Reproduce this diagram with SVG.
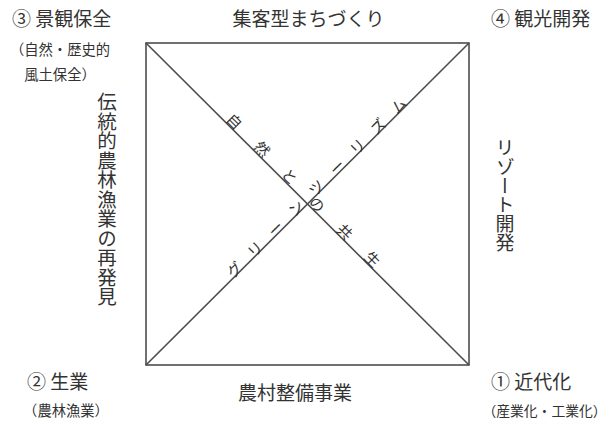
<svg xmlns="http://www.w3.org/2000/svg" width="607" height="423" viewBox="0 0 607 423">
<style>
text{font-family:'Noto Sans CJK JP','Noto Sans CJK SC',sans-serif;fill:#333}
.h{font-size:19px}
.s{font-size:14.3px}
.d{font-size:15px}
.v{font-size:19.5px;writing-mode:vertical-rl}
.ln{stroke:#4d4d4d;stroke-width:1.6;fill:none}
</style>
<rect width="607" height="423" fill="#fff"/>
<g id="connectors">
<rect class="ln" x="146" y="43" width="323" height="322"/>
<line class="ln" x1="146" y1="43" x2="469" y2="365"/>
<line class="ln" x1="146" y1="365" x2="469" y2="43"/>
</g>
<g id="node-3">
<text class="h" x="12" y="26">③ 景観保全</text>
<text class="s" x="60" y="54.5" text-anchor="middle">（自然・歴史的</text>
<text class="s" x="60" y="80" text-anchor="middle">風土保全）</text>
</g>
<g id="node-4">
<text class="h" x="491" y="26">④ 観光開発</text>
</g>
<g id="node-2">
<text class="h" x="27" y="389">② 生業</text>
<text class="s" x="66" y="416" text-anchor="middle">（農林漁業）</text>
</g>
<g id="node-1">
<text class="h" x="491" y="389">① 近代化</text>
<text class="s" x="544.5" y="416" text-anchor="middle" style="font-size:13.8px">（産業化・工業化）</text>
</g>
<g id="top-label">
<text class="h" x="308.5" y="26" text-anchor="middle">集客型まちづくり</text>
</g>
<g id="bottom-label">
<text class="h" x="295" y="400" text-anchor="middle">農村整備事業</text>
</g>
<g id="left-label">
<text class="v" x="107" y="92">伝統的農林漁業の再発見</text>
</g>
<g id="right-label">
<text class="v" x="505" y="138" style="font-size:19px">リゾート開発</text>
</g>
<g id="diag-rising" transform="translate(307.5 204) rotate(-45)">
<text class="d" x="-105.5 -76.5 -47.5 -18.5 10.5 39.5 68.5 97.5 126.5" y="0.5">グリーンツーリズム</text>
</g>
<g id="diag-falling" transform="translate(307.5 204) rotate(45)">
<text class="d" x="-117.5 -78.5 -39.5 -0.5 38.5 77.5" y="-1">自然との共生</text>
</g>
</svg>
